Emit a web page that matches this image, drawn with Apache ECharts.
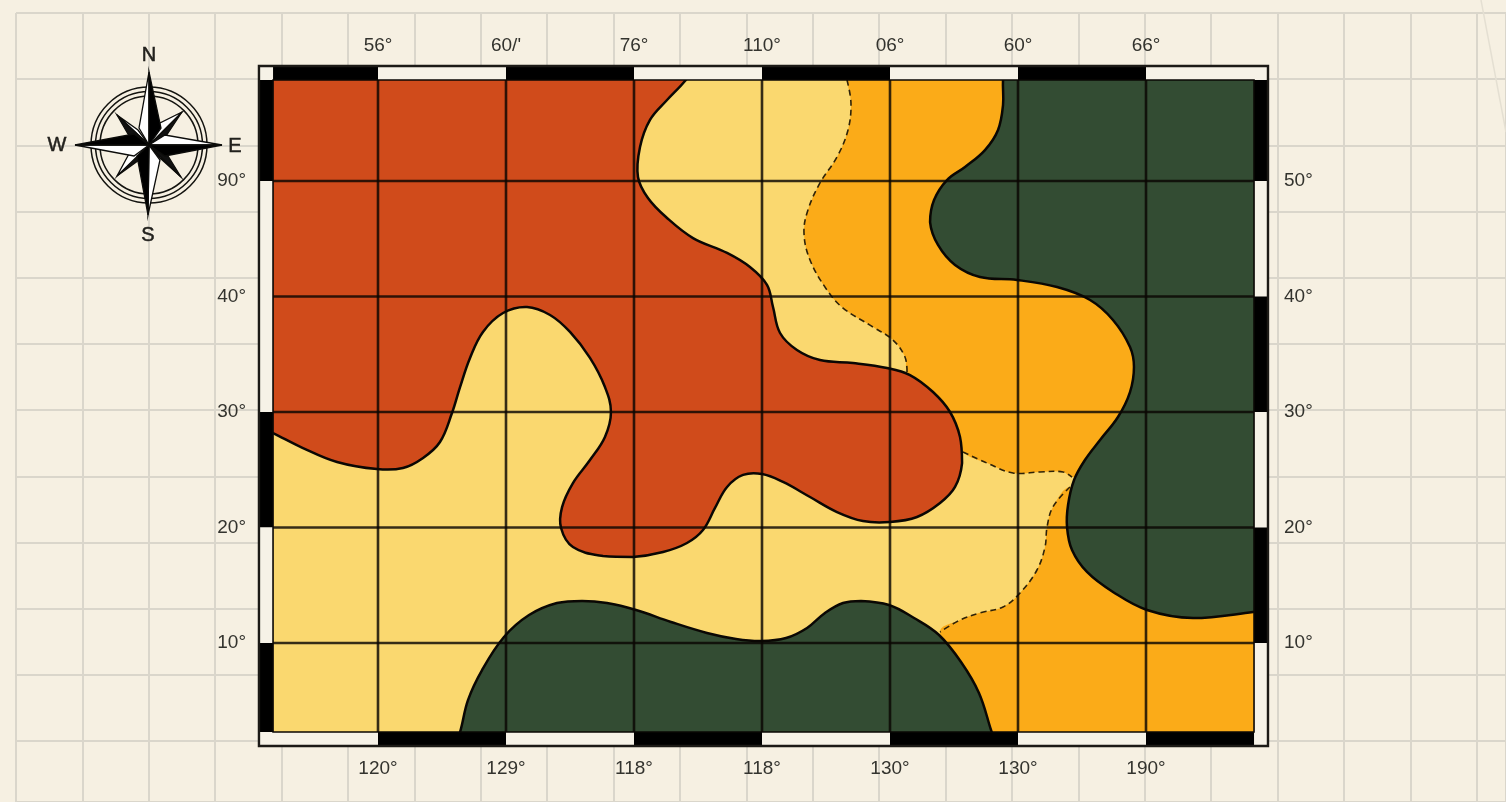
<!DOCTYPE html>
<html>
<head>
<meta charset="utf-8">
<style>html,body{margin:0;padding:0;background:#f6f0e2;overflow:hidden}#main{width:1506px;height:802px;filter:blur(0.6px)}</style>
<script src="https://cdn.jsdelivr.net/npm/echarts@6/dist/echarts.min.js"></script>
</head>
<body>
<div id="main"></div>
<script>
// tick labels, as printed on the sheet
const topLabels = ['56°', "60/'", '76°', '110°', '06°', '60°', '66°'];
const bottomLabels = ['120°', '129°', '118°', '118°', '130°', '130°', '190°'];
const leftLabels = ['10°', '20°', '30°', '40°', '90°'];
const rightLabels = ['10°', '20°', '30°', '40°', '50°'];

// graticule positions
const gridLons = [10, 20, 30, 40, 50, 60, 70];
const gridLats = [10, 20, 30, 40, 50];

// map extents [lon, lat]
const mapLon = [1.80, 78.44];
const mapLat = [2.29, 58.74];
const frameLon = [0.70, 79.53];
const frameLat = [1.08, 59.96];

// neatline band stops, first segment colour: 1 black, 0 white
const topStops = [1.80, 10, 20, 30, 40, 50, 60, 70, 78.44];
const bottomStops = [1.80, 10, 20, 30, 40, 50, 60, 70, 78.44];
const leftStops = [58.74, 50, 40, 30, 20, 10, 2.29];
const rightStops = [58.74, 50, 40, 30, 20, 10, 2.29];
const topColors = [1, 0, 1, 0, 1, 0, 1, 0];
const bottomColors = [0, 1, 0, 1, 0, 1, 0, 1];
const leftColors = [1, 0, 0, 1, 0, 1];
const rightColors = [1, 0, 1, 0, 1, 0];

// regions [lon, lat]
const redRegion = [[34.38,59.44],[33.98,58.66],[32.58,57.01],[31.25,55.29],[30.47,52.94],[30.31,50.35],[31.09,48.53],[32.58,46.80],[34.61,45.06],[37.27,43.77],[39.06,42.55],[40.39,41.00],[40.86,39.09],[41.41,36.84],[42.73,35.37],[44.53,34.50],[47.11,34.24],[49.77,33.81],[51.56,33.20],[53.36,31.73],[54.69,30.00],[55.47,27.84],[55.63,25.58],[55.08,23.51],[53.91,22.12],[52.11,20.91],[50.00,20.48],[47.89,20.56],[45.86,21.34],[43.75,22.64],[41.64,23.94],[40.00,24.63],[38.52,24.55],[37.27,23.51],[36.33,21.69],[35.39,19.78],[34.14,18.66],[32.27,17.88],[29.92,17.45],[27.58,17.53],[25.23,18.31],[24.30,19.96],[24.38,21.77],[25.23,23.85],[26.56,25.84],[27.73,27.84],[28.20,30.00],[27.73,32.16],[26.56,34.68],[25.00,36.93],[23.44,38.40],[21.64,39.09],[19.77,38.57],[18.20,36.93],[17.19,34.68],[16.41,32.16],[15.78,29.91],[14.84,27.40],[13.52,26.02],[11.95,25.15],[9.92,25.06],[6.80,25.67],[4.14,26.88],[1.80,28.18],[0.94,28.61],[0.94,32.77],[0.94,57.01],[0.94,58.74],[0.94,59.44],[2.34,59.44],[5.47,59.44],[19.53,59.44],[32.50,59.44]];
const greenEast = [[58.98,59.44],[58.83,58.74],[58.83,56.58],[58.44,54.42],[57.42,52.68],[55.86,51.21],[54.45,50.08],[53.44,48.35],[53.13,46.44],[53.75,44.46],[55.08,42.73],[57.03,41.69],[59.92,41.43],[63.05,40.82],[65.63,39.70],[67.42,37.97],[68.75,35.63],[69.06,33.90],[68.75,31.73],[67.81,29.57],[66.41,27.58],[65.23,25.84],[64.38,24.11],[63.91,21.95],[63.83,20.04],[64.22,18.05],[65.39,16.15],[67.42,14.42],[70.08,12.86],[73.67,12.16],[78.36,12.68],[79.06,12.86],[79.06,14.59],[79.06,39.70],[79.06,58.31],[79.06,59.44],[77.73,59.44],[66.41,59.44],[59.77,59.44]];
const greenSouth = [[16.09,1.60],[16.41,2.29],[17.03,5.06],[18.13,7.66],[19.84,10.52],[21.80,12.42],[23.98,13.46],[25.94,13.64],[27.89,13.46],[30.16,12.86],[32.89,11.82],[35.70,10.87],[37.97,10.35],[39.92,10.17],[41.88,10.43],[43.52,11.30],[44.92,12.60],[46.33,13.46],[47.73,13.64],[49.92,13.29],[51.88,12.16],[53.83,10.69],[55.55,8.35],[56.95,5.67],[57.89,2.47],[58.13,1.60],[57.42,1.60],[17.19,1.60]];
const dashNorth = [[46.64,58.74],[46.95,56.75],[46.72,54.42],[45.86,52.08],[44.53,49.83],[43.59,47.49],[43.28,45.50],[43.75,43.16],[45.08,40.56],[46.33,39.00],[48.67,37.36],[50.23,36.23],[51.17,34.76],[51.33,33.46]];
const dashMiddle = [[55.70,26.54],[57.58,25.58],[59.61,24.72],[61.72,24.81],[63.52,24.81],[64.22,24.37]];
const dashSouth = [[64.06,23.51],[62.73,21.78],[62.27,20.04],[62.11,18.31],[61.48,16.32],[60.16,14.33],[58.83,13.12],[57.03,12.61],[55.47,11.99],[53.91,10.95]];
const orangeNorthClosure = [[67.19,24.98],[70.31,39.70],[66.41,59.44],[63.28,59.44],[48.28,59.44],[46.64,59.44]];
const orangeNorthLink = [[53.13,30.17]];
const orangeSouthClosure = [[55.47,6.80],[54.69,1.60],[56.25,1.60],[77.34,1.60],[79.06,1.60],[79.06,3.33],[79.06,11.99],[79.06,14.59],[71.88,17.19],[66.41,20.65]];

const RED = '#d04b1b', YELLOW = '#fad86f', ORANGE = '#fbab18', GREEN = '#334c33', INK = '#0a0704';
const PAPER = '#f6f0e2', PAPERLINE = '#dad6cb', BANDWHITE = '#f6f2e7', TEXT = '#33332e';

function bounds(px) {
  const xs = px.map(q => q[0]), ys = px.map(q => q[1]);
  return [[Math.min(...xs), Math.min(...ys)], [Math.max(...xs), Math.max(...ys)]];
}
function polySeries(points, fill, stroke, z) {
  return { type: 'custom', xAxisIndex: 0, yAxisIndex: 0, z, silent: true, data: [[0, 0]], clip: false,
    renderItem: (p, api) => {
      const px = points.map(q => api.coord(q));
      return { type: 'polygon', silent: true,
        shape: { points: px, smooth: 0.38, smoothConstraint: bounds(px) },
        style: { fill, stroke: stroke || 'none', lineWidth: stroke ? 2.5 : 0 } };
    } };
}
function dashSeries(points, z) {
  return { type: 'custom', xAxisIndex: 0, yAxisIndex: 0, z, silent: true, data: [[0, 0]], clip: false,
    renderItem: (p, api) => ({ type: 'polyline', silent: true,
      shape: { points: points.map(q => api.coord(q)), smooth: 0.38 },
      style: { fill: 'none', stroke: '#2e2208', lineWidth: 1.6, lineDash: [6, 4] } }) };
}
function rectPx(api, lon0, lat0, lon1, lat1, style) {
  const a = api.coord([lon0, lat0]), b = api.coord([lon1, lat1]);
  return { type: 'rect', silent: true, shape: { x: Math.min(a[0], b[0]), y: Math.min(a[1], b[1]), width: Math.abs(a[0] - b[0]), height: Math.abs(a[1] - b[1]) }, style };
}
const bandFill = c => ({ fill: c ? '#000' : BANDWHITE });
function frameChildren(api) {
  const ch = [];
  ch.push(rectPx(api, frameLon[0], frameLat[0], frameLon[1], mapLat[0], bandFill(0)));
  ch.push(rectPx(api, frameLon[0], mapLat[1], frameLon[1], frameLat[1], bandFill(0)));
  ch.push(rectPx(api, frameLon[0], frameLat[0], mapLon[0], frameLat[1], bandFill(0)));
  ch.push(rectPx(api, mapLon[1], frameLat[0], frameLon[1], frameLat[1], bandFill(0)));
  topColors.forEach((c, i) => ch.push(rectPx(api, topStops[i], mapLat[1], topStops[i + 1], frameLat[1], bandFill(c))));
  bottomColors.forEach((c, i) => ch.push(rectPx(api, bottomStops[i], frameLat[0], bottomStops[i + 1], mapLat[0], bandFill(c))));
  leftColors.forEach((c, i) => ch.push(rectPx(api, frameLon[0], leftStops[i], mapLon[0], leftStops[i + 1], bandFill(c))));
  rightColors.forEach((c, i) => ch.push(rectPx(api, mapLon[1], rightStops[i], frameLon[1], rightStops[i + 1], bandFill(c))));
  ch.push(rectPx(api, frameLon[0], frameLat[0], frameLon[1], frameLat[1], { fill: 'none', stroke: '#1c1a16', lineWidth: 2.4 }));
  ch.push(rectPx(api, mapLon[0], mapLat[0], mapLon[1], mapLat[1], { fill: 'none', stroke: INK, lineWidth: 1.6 }));
  return ch;
}
function graticule(api) {
  const ch = [];
  const line = (a, b) => { const p = api.coord(a), q = api.coord(b);
    ch.push({ type: 'line', silent: true, shape: { x1: p[0], y1: p[1], x2: q[0], y2: q[1] }, style: { stroke: '#0a0602', lineWidth: 2.6, opacity: 0.82 } }); };
  gridLons.forEach(x => line([x, mapLat[0]], [x, mapLat[1]]));
  gridLats.forEach(y => line([mapLon[0], y], [mapLon[1], y]));
  return ch;
}

// compass rose (sheet decoration, page pixels)
const cx = 149, cy = 145;
const wedge = (pts, fill) => ({ type: 'polygon', z: 50, silent: true, shape: { points: pts }, style: { fill, stroke: '#0c0c0a', lineWidth: 1.3 } });
const ring = r => ({ type: 'circle', z: 50, silent: true, shape: { cx, cy, r }, style: { fill: 'none', stroke: '#141410', lineWidth: 1.5 } });
const letter = (t, x, y) => ({ type: 'text', z: 50, silent: true, x, y, style: { text: t, fill: '#22211d', stroke: '#22211d', lineWidth: 0.5, font: '20px "Liberation Sans", sans-serif', align: 'center', verticalAlign: 'middle' } });
const compass = [
  ring(58), ring(53.5), ring(49),
  wedge([[182,112],[166,136],[cx,cy]], '#111'), wedge([[182,112],[158,124],[cx,cy]], '#fff'),
  wedge([[117,115],[138,130],[cx,cy]], '#fff'), wedge([[117,115],[128,134],[cx,cy]], '#111'),
  wedge([[181,177],[160,158],[cx,cy]], '#fff'), wedge([[181,177],[168,156],[cx,cy]], '#111'),
  wedge([[117,176],[139,160],[cx,cy]], '#111'), wedge([[117,176],[130,152],[cx,cy]], '#fff'),
  wedge([[149,72],[139,128],[cx,cy]], '#fff'), wedge([[149,72],[161,128],[cx,cy]], '#000'),
  wedge([[148,215],[160,160],[cx,cy]], '#fff'), wedge([[148,215],[137,156],[cx,cy]], '#000'),
  wedge([[222,145],[165,135],[cx,cy]], '#fff'), wedge([[222,145],[165,156],[cx,cy]], '#000'),
  wedge([[75,145],[134,156],[cx,cy]], '#fff'), wedge([[75,145],[134,134],[cx,cy]], '#000'),
  letter('N', 149, 55), letter('S', 148, 235), letter('W', 57, 145), letter('E', 235, 146),
  { type: 'line', z: 1, silent: true, shape: { x1: 1481, y1: 0, x2: 1506, y2: 132 }, style: { stroke: '#e4dfd2', lineWidth: 1.5 } }
];

const tickFont = { color: TEXT, fontSize: 19, fontFamily: '"Liberation Sans", sans-serif' };
const pick = (arr, idx) => (idx >= 0 && idx < arr.length ? arr[idx] : '');
const hidden = { axisLine: { show: false }, axisTick: { show: false }, splitLine: { show: false } };

const option = {
  animation: false,
  backgroundColor: PAPER,
  tooltip: { show: false },
  grid: [
    { left: 250, top: 65.5, width: 1024, height: 693, containLabel: false },
    { left: 16, top: 13, width: 1490, height: 789, containLabel: false }
  ],
  xAxis: [
    { type: 'value', gridIndex: 0, position: 'top', min: 0, max: 80, interval: 10, ...hidden,
      axisLabel: { ...tickFont, margin: 10, showMinLabel: false, showMaxLabel: false, formatter: v => pick(topLabels, v / 10 - 1) } },
    { type: 'value', gridIndex: 0, position: 'bottom', min: 0, max: 80, interval: 10, ...hidden,
      axisLabel: { ...tickFont, margin: 1, showMinLabel: false, showMaxLabel: false, formatter: v => pick(bottomLabels, v / 10 - 1) } },
    { type: 'value', gridIndex: 1, position: 'bottom', min: 0, max: 22.44, interval: 1, axisLine: { show: false }, axisTick: { show: false }, axisLabel: { show: false },
      splitLine: { show: true, lineStyle: { color: PAPERLINE, width: 2 } } }
  ],
  yAxis: [
    { type: 'value', gridIndex: 0, position: 'left', min: 0, max: 60, interval: 10, ...hidden,
      axisLabel: { ...tickFont, margin: 4, padding: [3, 0, 0, 0], showMinLabel: false, showMaxLabel: false, formatter: v => pick(leftLabels, v / 10 - 1) } },
    { type: 'value', gridIndex: 0, position: 'right', min: 0, max: 60, interval: 10, ...hidden,
      axisLabel: { ...tickFont, margin: 10, padding: [3, 0, 0, 0], showMinLabel: false, showMaxLabel: false, formatter: v => pick(rightLabels, v / 10 - 1) } },
    { type: 'value', gridIndex: 1, position: 'left', inverse: true, min: 0, max: 11.92, interval: 1, axisLine: { show: false }, axisTick: { show: false }, axisLabel: { show: false },
      splitLine: { show: true, lineStyle: { color: PAPERLINE, width: 2 } } }
  ],
  graphic: { elements: compass },
  series: [
    { type: 'custom', xAxisIndex: 0, yAxisIndex: 0, z: 2, silent: true, data: [[0, 0]], clip: false,
      renderItem: (p, api) => rectPx(api, mapLon[0], mapLat[0], mapLon[1], mapLat[1], { fill: YELLOW }) },
    polySeries(dashNorth.concat(orangeNorthLink, dashMiddle, orangeNorthClosure), ORANGE, null, 3),
    polySeries(dashSouth.concat(orangeSouthClosure), ORANGE, null, 3),
    dashSeries(dashNorth, 4), dashSeries(dashMiddle, 4), dashSeries(dashSouth, 4),
    polySeries(redRegion, RED, INK, 5),
    polySeries(greenEast, GREEN, INK, 5),
    polySeries(greenSouth, GREEN, INK, 5),
    { type: 'custom', xAxisIndex: 0, yAxisIndex: 0, z: 6, silent: true, data: [[0, 0]], clip: false,
      renderItem: (p, api) => ({ type: 'group', children: graticule(api) }) },
    { type: 'custom', xAxisIndex: 0, yAxisIndex: 0, z: 7, silent: true, data: [[0, 0]], clip: false,
      renderItem: (p, api) => ({ type: 'group', children: frameChildren(api) }) }
  ]
};
const chart = echarts.init(document.getElementById('main'), null, { renderer: 'canvas' });
chart.setOption(option);
</script>
</body>
</html>
